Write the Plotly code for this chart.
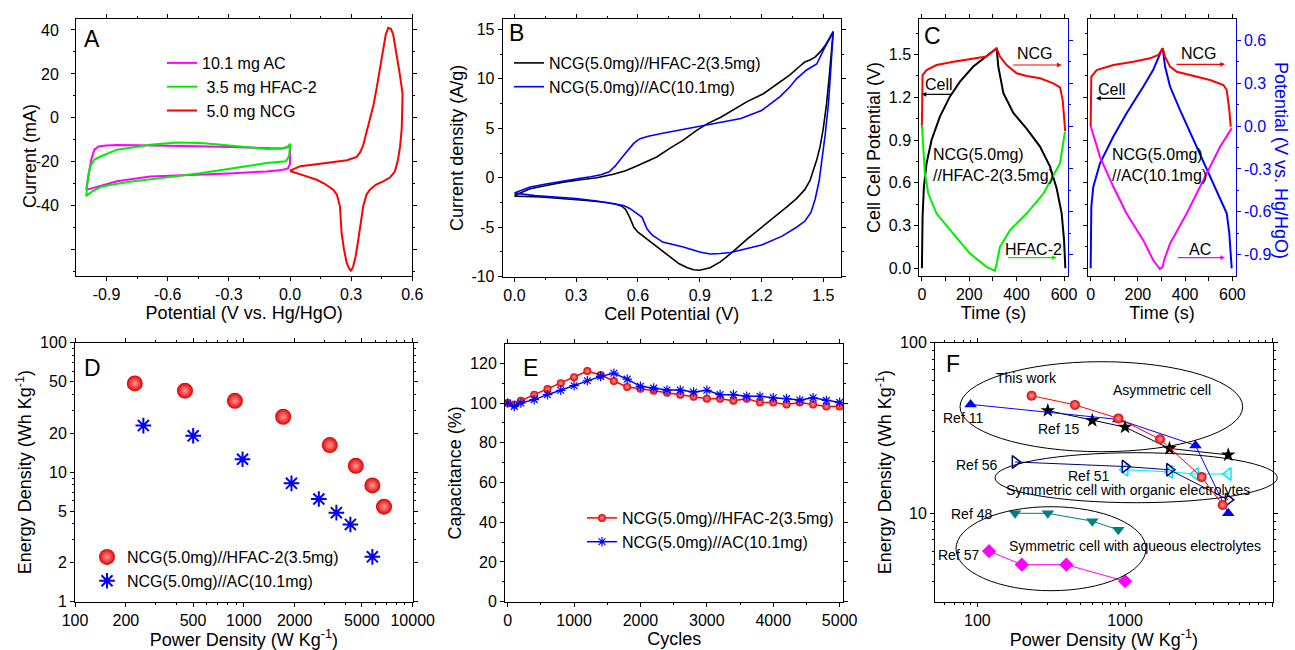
import plotly.graph_objects as go

W, H = 1295, 650
FONT = "Arial, Liberation Sans, sans-serif"

# ---------------- Panel A: CV of single electrodes ----------------
a_ac_v = [-1.0, -0.99, -0.975, -0.96, -0.94, -0.9, -0.849, -0.75, -0.6, -0.45, -0.3, -0.18, -0.1, -0.04, -0.01, 0.0,
          0.0, -0.01, -0.04, -0.114, -0.3, -0.441, -0.6, -0.686, -0.849, -0.947, -0.99, -1.0]
a_ac_i = [-32.7, -27.0, -19.0, -14.5, -13.0, -12.6, -12.4, -12.5, -12.6, -12.9, -13.3, -13.7, -13.9, -13.9, -13.3, -12.3,
          -21.0, -23.0, -23.7, -24.4, -25.3, -25.9, -26.4, -26.7, -28.9, -31.5, -32.5, -32.8]
a_hf_v = [-1.0, -0.99, -0.98, -0.96, -0.93, -0.849, -0.75, -0.686, -0.555, -0.441, -0.35, -0.278, -0.2, -0.114, -0.04, -0.01, 0.0,
          0.0, -0.005, -0.02, -0.114, -0.278, -0.441, -0.604, -0.768, -0.88, -0.931, -0.97, -1.0]
a_hf_i = [-35.8, -26.0, -22.0, -19.0, -17.6, -14.5, -13.2, -12.3, -11.2, -11.5, -12.1, -12.7, -13.4, -14.2, -14.0, -13.0, -11.8,
          -13.0, -17.5, -19.8, -20.6, -22.9, -25.2, -27.1, -28.9, -30.5, -31.5, -33.5, -35.5]
a_ncg_v = [0.0, 0.016, 0.05, 0.12, 0.21, 0.28, 0.327, 0.345, 0.359, 0.375, 0.392, 0.41, 0.425, 0.44, 0.457, 0.47, 0.482,
           0.495, 0.506, 0.52, 0.535, 0.548, 0.552, 0.551, 0.548, 0.54, 0.53, 0.514, 0.49, 0.457, 0.42, 0.392, 0.375,
           0.359, 0.345, 0.335, 0.322, 0.31, 0.299, 0.29, 0.278, 0.265, 0.253, 0.245, 0.23, 0.212, 0.17, 0.131, 0.07,
           0.016, 0.0]
a_ncg_i = [-24.0, -23.4, -22.0, -21.2, -20.3, -19.3, -17.8, -15.5, -12.5, -7.0, -1.0, 6.0, 13.5, 22.0, 32.0, 38.0, 41.0,
           40.5, 38.0, 31.0, 22.0, 14.0, 11.0, 5.0, -5.0, -13.0, -19.0, -24.5, -27.2, -28.9, -30.5, -32.7, -35.0,
           -40.3, -48.0, -55.5, -63.0, -67.6, -69.8, -68.5, -66.0, -60.0, -52.4, -40.3, -35.0, -32.7, -30.0, -28.2,
           -26.3, -24.8, -24.2]

# ---------------- Panel B: CV of full cells ----------------
b_hf_v = [0.0, 0.076, 0.16, 0.238, 0.32, 0.40, 0.48, 0.54, 0.594, 0.65, 0.691, 0.756, 0.82, 0.885, 0.94, 1.0, 1.047,
          1.13, 1.209, 1.28, 1.338, 1.387, 1.41, 1.435, 1.46, 1.484, 1.51, 1.532, 1.548,
          1.53, 1.516, 1.5, 1.485, 1.468, 1.45, 1.435, 1.41, 1.37, 1.32, 1.26, 1.2, 1.13, 1.06, 1.0, 0.95, 0.9,
          0.87, 0.84, 0.8, 0.75, 0.7, 0.66, 0.63, 0.6, 0.58, 0.56, 0.54, 0.52, 0.49, 0.448, 0.35, 0.24, 0.13, 0.05, 0.0]
b_hf_i = [-1.8, -1.1, -0.75, -0.44, -0.2, 0.0, 0.35, 0.7, 1.2, 1.7, 2.1, 3.0, 3.8, 4.8, 5.5, 6.1, 6.7,
          7.7, 8.5, 9.5, 10.4, 11.3, 11.7, 11.9, 12.2, 12.7, 13.4, 14.2, 14.8,
          10.5, 7.5, 5.0, 3.2, 1.8, 0.6, -0.3, -1.2, -2.1, -3.0, -4.0, -5.0, -6.2, -7.5, -8.5, -9.1, -9.35,
          -9.3, -9.1, -8.7, -7.9, -7.1, -6.4, -6.0, -5.5, -5.0, -4.0, -3.2, -2.85, -2.65, -2.5, -2.3, -2.1, -1.95,
          -1.9, -1.85]
b_ac_v = [0.0, 0.076, 0.16, 0.238, 0.32, 0.37, 0.42, 0.46, 0.49, 0.52, 0.55, 0.58, 0.61, 0.65, 0.72, 0.8, 0.9, 1.0,
          1.1, 1.2, 1.29, 1.338, 1.37, 1.419, 1.468, 1.508, 1.532, 1.548,
          1.535, 1.525, 1.51, 1.495, 1.48, 1.46, 1.44, 1.41, 1.37, 1.3, 1.2, 1.1, 1.05, 1.0, 0.95, 0.9, 0.82, 0.72,
          0.67, 0.645, 0.62, 0.594, 0.56, 0.53, 0.5, 0.4, 0.3, 0.2, 0.1, 0.0]
b_ac_i = [-1.55, -0.94, -0.6, -0.3, -0.05, 0.1, 0.3, 0.6, 1.2, 2.0, 2.8, 3.5, 3.95, 4.2, 4.5, 4.8, 5.2, 5.55,
          6.0, 6.8, 8.2, 9.2, 10.0, 10.9, 11.5, 13.2, 14.2, 14.7,
          10.5, 7.5, 4.5, 1.8, -0.3, -2.2, -3.5, -4.4, -5.0, -5.9, -6.8, -7.3, -7.55, -7.65, -7.7, -7.5, -7.0, -6.5,
          -5.8, -5.2, -4.0, -3.6, -3.1, -2.8, -2.7, -2.35, -2.1, -1.95, -1.8, -1.55]

# ---------------- Panel C: charge / discharge ----------------
cl_cell_t = [0, 2.8, 8.5, 19.7, 40.8, 76, 118, 160.6, 217, 273, 315.5, 322.5, 344, 386, 442, 498.6, 541, 569, 590, 600, 605.6]
cl_cell_v = [0, 0.363, 0.573, 0.737, 0.901, 1.065, 1.205, 1.31, 1.416, 1.486, 1.545, 1.416, 1.23, 1.09, 0.98, 0.854, 0.714,
             0.56, 0.386, 0.2, 0]
cl_ncg_t = [0, 0.5, 2.8, 19.7, 62, 133, 204, 273, 315.5, 329.6, 357.7, 400, 442, 499, 555, 583, 594.4, 600, 605]
cl_ncg_v = [0.0, 0.2, 0.357, 0.392, 0.427, 0.45, 0.467, 0.486, 0.544, 0.486, 0.427, 0.369, 0.35, 0.334, 0.299, 0.271,
            0.182, 0.05, -0.035]
cl_hf_t = [0, 5.6, 12.7, 26.8, 62, 132, 203, 273, 308, 315.5, 329.6, 372, 442, 513, 583, 604]
cl_hf_v = [0.007, -0.145, -0.332, -0.472, -0.612, -0.752, -0.892, -0.985, -1.013, -0.962, -0.845, -0.728, -0.612,
           -0.472, -0.262, -0.04]
cr_cell_t = [0, 2.8, 11.3, 39.5, 96, 152, 223, 265, 300.6, 305, 315, 336, 378, 435, 491, 548, 576, 587, 597]
cr_cell_v = [0, 0.433, 0.573, 0.737, 0.925, 1.088, 1.276, 1.393, 1.533, 1.545, 1.416, 1.276, 1.112, 0.902, 0.69, 0.48,
             0.386, 0.246, 0]
cr_ncg_t = [0, 0.5, 2.8, 25.4, 96, 180.6, 251, 286.6, 305, 315, 336, 364.6, 435, 505.6, 562, 576, 587, 593]
cr_ncg_v = [0, 0.2, 0.346, 0.392, 0.427, 0.45, 0.474, 0.497, 0.544, 0.486, 0.416, 0.38, 0.35, 0.322, 0.287, 0.252,
            0.112, -0.005]
cr_ac_t = [0, 39.5, 96, 152, 223, 265, 293, 305, 310.6, 336, 406.5, 477, 548, 597]
cr_ac_v = [0, -0.215, -0.425, -0.612, -0.8, -0.939, -1.0, -0.985, -0.94, -0.822, -0.612, -0.378, -0.145, -0.016]

# ---------------- Panel D: Ragone ----------------
d_hf_p = [226, 448, 885, 1710, 3228, 4602, 5770, 6761]
d_hf_e = [48.5, 42.6, 35.6, 26.8, 16.2, 11.2, 7.9, 5.42]
d_ac_p = [254, 501, 982, 1914, 2780, 3532, 4275, 5770]
d_ac_e = [22.9, 19.1, 12.6, 8.2, 6.21, 4.87, 3.95, 2.22]

# ---------------- Panel E: cycling ----------------
e_cyc = [0, 100, 200, 400, 600, 800, 1000, 1200, 1400, 1600, 1800, 2000, 2200, 2400, 2600, 2800, 3000, 3200, 3400,
         3600, 3800, 4000, 4200, 4400, 4600, 4800, 5000]
e_hf = [100, 99.2, 101.2, 104.2, 107, 110, 113, 116.1, 114.1, 111.1, 108.1, 107.2, 106.2, 105.2, 104.2, 103.2, 102.2,
        102.2, 101.2, 102.2, 100.2, 100.2, 99.2, 100.2, 99.2, 98.2, 98.2]
e_ac = [100, 98.3, 100, 101.7, 104.2, 106.4, 108.7, 111.2, 113.4, 115, 112, 108.4, 107.5, 106.5, 106.5, 105.5, 106.4,
        104.2, 104.2, 103.4, 103.4, 102.6, 102.2, 101.5, 102.6, 101.3, 100.3]

# ---------------- Panel F: comparison ----------------
f_this_p = [233, 458, 901, 1726, 3304, 4583]
f_this_e = [48.9, 43.2, 36.0, 27.2, 16.3, 11.2]
f_r11_p = [90, 900, 3000, 5000]
f_r11_e = [43.5, 35.5, 25, 10]
f_r15_p = [300, 600, 1000, 2000, 5000]
f_r15_e = [40, 35, 32, 24, 22]
f_r56_p = [180, 1000, 2000, 5000]
f_r56_e = [20, 18.8, 18, 12]
f_r51_p = [1000, 2000, 3000, 5000]
f_r51_e = [18, 17.5, 17, 17]
f_r48_p = [180, 300, 600, 900]
f_r48_e = [10, 10, 9, 8]
f_r57_p = [120, 200, 400, 1000]
f_r57_e = [6, 5, 5, 4]

TICK = 16
TITLE = 18


def P(x, y):
    return x / W, 1 - y / H


def dom_x(a, b):
    return [a / W, b / W]


def dom_y(top, bot):
    return [1 - bot / H, 1 - top / H]


def axis(**kw):
    d = dict(showline=True, linecolor='black', linewidth=1, mirror='allticks', ticks='outside', ticklen=4,
             tickwidth=1, tickcolor='black', showgrid=False, zeroline=False,
             tickfont=dict(size=TICK, color='black', family=FONT),
             minor=dict(ticks='outside', ticklen=2, tickcolor='black', showgrid=False))
    d.update(kw)
    return d


def ttl(text, standoff=3, color='black'):
    return dict(text=text, font=dict(size=TITLE, color=color, family=FONT), standoff=standoff)


def mnr(vals, color='black'):
    return dict(ticks='outside', ticklen=2, tickcolor=color, tickvals=vals, showgrid=False)


fig = go.Figure()

# A
fig.add_trace(go.Scatter(x=a_ac_v, y=a_ac_i, mode='lines', line=dict(color='#ff00ff', width=2), name='10.1 mg AC',
                         xaxis='x', yaxis='y', legend='legend'))
fig.add_trace(go.Scatter(x=a_hf_v, y=a_hf_i, mode='lines', line=dict(color='#00ee00', width=2),
                         name='\u00a03.5 mg HFAC-2', xaxis='x', yaxis='y', legend='legend'))
fig.add_trace(go.Scatter(x=a_ncg_v, y=a_ncg_i, mode='lines', line=dict(color='#ff0000', width=2),
                         name='\u00a05.0 mg NCG', xaxis='x', yaxis='y', legend='legend'))
# B
fig.add_trace(go.Scatter(x=b_hf_v, y=b_hf_i, mode='lines', line=dict(color='black', width=1.6),
                         name='NCG(5.0mg)//HFAC-2(3.5mg)', xaxis='x2', yaxis='y2', legend='legend2'))
fig.add_trace(go.Scatter(x=b_ac_v, y=b_ac_i, mode='lines', line=dict(color='#0000ff', width=1.6),
                         name='NCG(5.0mg)//AC(10.1mg)', xaxis='x2', yaxis='y2', legend='legend2'))
# C left
fig.add_trace(go.Scatter(x=cl_cell_t, y=cl_cell_v, mode='lines', line=dict(color='black', width=2), showlegend=False,
                         xaxis='x3', yaxis='y3'))
fig.add_trace(go.Scatter(x=cl_ncg_t, y=cl_ncg_v, mode='lines', line=dict(color='#ff0000', width=2), showlegend=False,
                         xaxis='x3', yaxis='y8'))
fig.add_trace(go.Scatter(x=cl_hf_t, y=cl_hf_v, mode='lines', line=dict(color='#00ee00', width=2), showlegend=False,
                         xaxis='x3', yaxis='y8'))
# C right
fig.add_trace(go.Scatter(x=cr_cell_t, y=cr_cell_v, mode='lines', line=dict(color='#0000ff', width=2), showlegend=False,
                         xaxis='x4', yaxis='y4'))
fig.add_trace(go.Scatter(x=cr_ncg_t, y=cr_ncg_v, mode='lines', line=dict(color='#ff0000', width=2), showlegend=False,
                         xaxis='x4', yaxis='y9'))
fig.add_trace(go.Scatter(x=cr_ac_t, y=cr_ac_v, mode='lines', line=dict(color='#ff00ff', width=2), showlegend=False,
                         xaxis='x4', yaxis='y9'))
# D
sphere = dict(type='radial', color='#ff9a9a')
fig.add_trace(go.Scatter(x=d_hf_p, y=d_hf_e, mode='markers', name='NCG(5.0mg)//HFAC-2(3.5mg)',
                         marker=dict(symbol='circle', size=16, color='#e00000', line=dict(width=0), gradient=sphere),
                         xaxis='x5', yaxis='y5', legend='legend3'))
fig.add_trace(go.Scatter(x=d_ac_p, y=d_ac_e, mode='markers', name='NCG(5.0mg)//AC(10.1mg)',
                         marker=dict(symbol='asterisk-open', size=13, color='#0000ff', line=dict(width=2, color='#0000ff')),
                         xaxis='x5', yaxis='y5', legend='legend3'))
# E
fig.add_trace(go.Scatter(x=e_cyc, y=e_hf, mode='lines+markers', name='NCG(5.0mg)//HFAC-2(3.5mg)',
                         line=dict(color='#ff0000', width=1.5),
                         marker=dict(symbol='circle', size=8, color='#e00000', gradient=dict(type='radial', color='#ff9090')),
                         xaxis='x6', yaxis='y6', legend='legend4'))
fig.add_trace(go.Scatter(x=e_cyc, y=e_ac, mode='lines+markers', name='NCG(5.0mg)//AC(10.1mg)',
                         line=dict(color='#0000ff', width=1.5),
                         marker=dict(symbol='asterisk-open', size=8, color='#0000ff', line=dict(width=1.2, color='#0000ff')),
                         xaxis='x6', yaxis='y6', legend='legend4'))


# F
def fser(x, y, color, symbol, size=11, open_=False):
    mk = dict(symbol=symbol, size=size, color=color)
    if open_:
        mk['line'] = dict(width=1.5, color=color)
    fig.add_trace(go.Scatter(x=x, y=y, mode='lines+markers', line=dict(color=color, width=1), marker=mk,
                             showlegend=False, xaxis='x7', yaxis='y7'))


fser(f_r57_p, f_r57_e, '#ff00ff', 'diamond', 11)
fser(f_r48_p, f_r48_e, '#008080', 'triangle-down', 11)
fser(f_r51_p, f_r51_e, '#00e5ff', 'triangle-left-open', 11, True)
fser(f_r56_p, f_r56_e, '#000080', 'triangle-right-open', 11, True)
fser(f_r15_p, f_r15_e, 'black', 'star', 11)
fser(f_r11_p, f_r11_e, '#0000ff', 'triangle-up', 11)
fig.add_trace(go.Scatter(x=f_this_p, y=f_this_e, mode='lines+markers', line=dict(color='#ff0000', width=1),
                         marker=dict(symbol='circle', size=10, color='#e00000', gradient=dict(type='radial', color='#ffa0a0')),
                         showlegend=False, xaxis='x7', yaxis='y7'))

layout = dict(
    width=W, height=H, margin=dict(l=0, r=0, t=0, b=0), template='none',
    paper_bgcolor='white', plot_bgcolor='rgba(0,0,0,0)',
    font=dict(family=FONT, size=TICK, color='black'),
    # A
    xaxis=axis(domain=dom_x(76, 412.3), range=[-1.05, 0.6], anchor='y',
               tickvals=[-0.9, -0.6, -0.3, 0.0, 0.3, 0.6], ticktext=['-0.9', '-0.6', '-0.3', '0.0', '0.3', '0.6'],
               minor=mnr([-0.75, -0.45, -0.15, 0.15, 0.45]),
               title=ttl('Potential (V vs. Hg/HgO)')),
    yaxis=axis(domain=dom_y(19, 276), range=[-72, 45], anchor='x', ticklabelstandoff=9,
               tickvals=[-60, -40, -20, 0, 20, 40], ticktext=['', '-40', '-20', '0', '20', '40'],
               minor=mnr([-70, -50, -30, -10, 10, 30])),
    # B
    xaxis2=axis(domain=dom_x(502.7, 841), range=[-0.057, 1.586], anchor='y2',
                tickvals=[0, 0.3, 0.6, 0.9, 1.2, 1.5], ticktext=['0.0', '0.3', '0.6', '0.9', '1.2', '1.5'],
                minor=mnr([0.15, 0.45, 0.75, 1.05, 1.35]),
                title=ttl('Cell Potential (V)')),
    yaxis2=axis(domain=dom_y(19, 276.7), range=[-10, 16.05], anchor='x2',
                tickvals=[-10, -5, 0, 5, 10, 15], ticktext=['-10', '-5', '0', '5', '10', '15'],
                minor=mnr([-7.5, -2.5, 2.5, 7.5, 12.5]),
                title=ttl('Current density (A/g)')),
    # C left
    xaxis3=axis(domain=dom_x(919.3, 1067.7), range=[-11, 615.5], anchor='y3', tickvals=[0, 200, 400, 600],
                minor=mnr([100, 300, 500]), title=ttl('Time (s)')),
    yaxis3=axis(domain=dom_y(19, 276), range=[-0.054, 1.75], anchor='x3', mirror=False,
                tickvals=[0, 0.3, 0.6, 0.9, 1.2, 1.5], ticktext=['0.0', '0.3', '0.6', '0.9', '1.2', '1.5'],
                minor=mnr([0.15, 0.45, 0.75, 1.05, 1.35, 1.65]),
                title=ttl('Cell Cell Potential (V)')),
    yaxis8=axis(overlaying='y3', anchor='x3', side='right', range=[-1.049, 0.749], mirror=False,
                linecolor='#0000ff', tickcolor='#0000ff', showticklabels=False,
                tickvals=[-0.9, -0.6, -0.3, 0, 0.3, 0.6],
                minor=mnr([-0.75, -0.45, -0.15, 0.15, 0.45], '#0000ff')),
    # C right
    xaxis4=axis(domain=dom_x(1088.3, 1235.7), range=[-10, 614], anchor='y4', tickvals=[0, 200, 400, 600],
                minor=mnr([100, 300, 500]), title=ttl('Time (s)')),
    yaxis4=axis(domain=dom_y(19, 276), range=[-0.054, 1.75], anchor='x4', mirror=False, showticklabels=False,
                tickvals=[0, 0.3, 0.6, 0.9, 1.2, 1.5],
                minor=mnr([0.15, 0.45, 0.75, 1.05, 1.35, 1.65])),
    yaxis9=axis(overlaying='y4', anchor='x4', side='right', range=[-1.049, 0.749], mirror=False,
                linecolor='#0000ff', tickcolor='#0000ff',
                tickfont=dict(size=TICK, color='#0000ff', family=FONT),
                tickvals=[-0.9, -0.6, -0.3, 0, 0.3, 0.6], ticktext=['-0.9', '-0.6', '-0.3', '0.0', '0.3', '0.6'],
                minor=mnr([-0.75, -0.45, -0.15, 0.15, 0.45], '#0000ff')),
    # D
    xaxis5=axis(domain=dom_x(75, 412.7), type='log', range=[2, 4], anchor='y5',
                tickvals=[100, 200, 500, 1000, 2000, 5000, 10000],
                ticktext=['100', '200', '500', '1000', '2000', '5000', '10000'],
                minor=mnr([300, 400, 600, 700, 800, 900, 3000, 4000, 6000, 7000, 8000, 9000]),
                title=ttl('Power Density (W Kg<sup>-1</sup>)')),
    yaxis5=axis(domain=dom_y(342.7, 601.7), type='log', range=[0, 2], anchor='x5',
                tickvals=[1, 2, 5, 10, 20, 50, 100], ticktext=['1', '2', '5', '10', '20', '50', '100'],
                minor=mnr([3, 4, 6, 7, 8, 9, 30, 40, 60, 70, 80, 90]),
                title=ttl('Energy Density (Wh Kg<sup>-1</sup>)')),
    # E
    xaxis6=axis(domain=dom_x(505, 843.3), range=[-40, 5055], anchor='y6',
                tickvals=[0, 1000, 2000, 3000, 4000, 5000],
                minor=mnr([500, 1500, 2500, 3500, 4500]),
                title=ttl('Cycles')),
    yaxis6=axis(domain=dom_y(344, 601.7), range=[0, 129.7], anchor='x6',
                tickvals=[0, 20, 40, 60, 80, 100, 120],
                minor=mnr([10, 30, 50, 70, 90, 110]),
                title=ttl('Capacitance (%)')),
    # F
    xaxis7=axis(domain=dom_x(935, 1272.7), type='log', range=[1.713, 4], anchor='y7',
                tickvals=[100, 1000, 10000], ticktext=['100', '1000', '10000'],
                minor=mnr([60, 70, 80, 90, 200, 300, 400, 500, 600, 700, 800, 900,
                           2000, 3000, 4000, 5000, 6000, 7000, 8000, 9000]),
                title=ttl('Power Density (W Kg<sup>-1</sup>)', standoff=7)),
    yaxis7=axis(domain=dom_y(342.7, 601.7), type='log', range=[0.482, 2], anchor='x7',
                tickvals=[10, 100], ticktext=['10', '100'],
                minor=mnr([4, 5, 6, 7, 8, 9, 20, 30, 40, 50, 60, 70, 80, 90]),
                title=ttl('Energy Density (Wh Kg<sup>-1</sup>)')),
)

lg = dict(bgcolor='rgba(0,0,0,0)', borderwidth=0, font=dict(size=16, family=FONT), xanchor='left', yanchor='top',
          tracegroupgap=0, itemwidth=30)
layout['legend'] = dict(lg, x=P(162, 0)[0], y=P(0, 46)[1])
layout['legend2'] = dict(lg, x=P(509, 0)[0], y=P(0, 46)[1])
layout['legend3'] = dict(lg, x=P(87, 0)[0], y=P(0, 540)[1])
layout['legend4'] = dict(lg, x=P(582, 0)[0], y=P(0, 501)[1])

fig.update_layout(**layout)

ann = []


def label(x, y, text, size=23, color='black', xanchor='center', xref='paper', yref='paper', px=True, align='center'):
    if px:
        x, y = P(x, y)
    ann.append(dict(x=x, y=y, xref=xref, yref=yref, text=text, showarrow=False, xanchor=xanchor, yanchor='middle',
                    align=align, font=dict(size=size, color=color, family=FONT)))


# panel letters
label(91.7, 39.3, 'A')
label(516.7, 33.3, 'B')
label(932.7, 36, 'C')
label(92.7, 367.7, 'D')
label(530, 367.7, 'E')
label(953.3, 364.3, 'F')


def arrow(x, y, tx, color, xref, yref):
    ann.append(dict(x=x, y=y, ax=tx, ay=y, axref=xref, ayref=yref, xref=xref, yref=yref, text='', showarrow=True,
                    arrowhead=2, arrowsize=0.8, arrowwidth=1.2, arrowcolor=color, standoff=0, startstandoff=0))


# C left annotations
label(477, 1.509, 'NCG', 16, xref='x3', yref='y3', px=False)
arrow(590, 1.427, 379, '#ff0000', 'x3', 'y3')
label(72, 1.287, 'Cell', 16, xref='x3', yref='y3', px=False)
arrow(-1.4, 1.2215, 130, 'black', 'x3', 'y3')
label(470, 0.133, 'HFAC-2', 16, xref='x3', yref='y3', px=False)
arrow(569, 0.075, 358, '#00ee00', 'x3', 'y3')
label(40, 0.725, 'NCG(5.0mg)<br>//HFAC-2(3.5mg)', 16, xanchor='left', xref='x3', yref='y3', px=False, align='left')
# C right annotations
label(460, 1.509, 'NCG', 16, xref='x4', yref='y4', px=False)
arrow(569, 1.432, 357, '#ff0000', 'x4', 'y4')
label(92, 1.257, 'Cell', 16, xref='x4', yref='y4', px=False)
arrow(22.6, 1.193, 152, 'black', 'x4', 'y4')
label(463, 0.133, 'AC', 16, xref='x4', yref='y4', px=False)
arrow(569, 0.075, 363, '#ff00ff', 'x4', 'y4')
label(82, 0.725, 'NCG(5.0mg)<br>//AC(10.1mg)', 16, xanchor='left', xref='x4', yref='y4', px=False, align='left')

# vertical titles drawn as text
xx, yy = P(1281, 160)
ann.append(dict(x=xx, y=yy, xref='paper', yref='paper', text='Potential (V vs. Hg/HgO)', textangle=90,
                xanchor='center', yanchor='middle', showarrow=False,
                font=dict(size=TITLE, color='#0000ff', family=FONT)))
xx, yy = P(30, 156)
ann.append(dict(x=xx, y=yy, xref='paper', yref='paper', text='Current (mA)', textangle=-90,
                xanchor='center', yanchor='middle', showarrow=False,
                font=dict(size=TITLE, color='black', family=FONT)))

# F labels
for (x, y, t) in [(1026.7, 378.3, 'This work'), (1161.7, 390, 'Asymmetric cell'), (963.3, 418.3, 'Ref 11'),
                  (1058.3, 429.3, 'Ref 15'), (976.7, 465, 'Ref 56'), (1088.3, 476, 'Ref 51'),
                  (1128.3, 490, 'Symmetric cell with organic electrolytes'), (971.7, 514.3, 'Ref 48'),
                  (1135, 546, 'Symmetric cell with aqueous electrolytes'), (958.3, 555, 'Ref 57')]:
    label(x, y, t, 14)

fig.update_layout(annotations=ann)

shapes = []
for (x0, y0, x1, y1) in [(960, 361.7, 1242.7, 451.7), (995, 452.7, 1277.3, 502.7), (956, 506.7, 1146, 590.7)]:
    a0, b1 = P(x0, y0)
    a1, b0 = P(x1, y1)
    shapes.append(dict(type='circle', xref='paper', yref='paper', x0=a0, x1=a1, y0=b0, y1=b1,
                       line=dict(color='black', width=1)))
fig.update_layout(shapes=shapes)

fig.write_html("out.html", config={'displayModeBar': False},
               post_script="document.body.style.margin='0';")
